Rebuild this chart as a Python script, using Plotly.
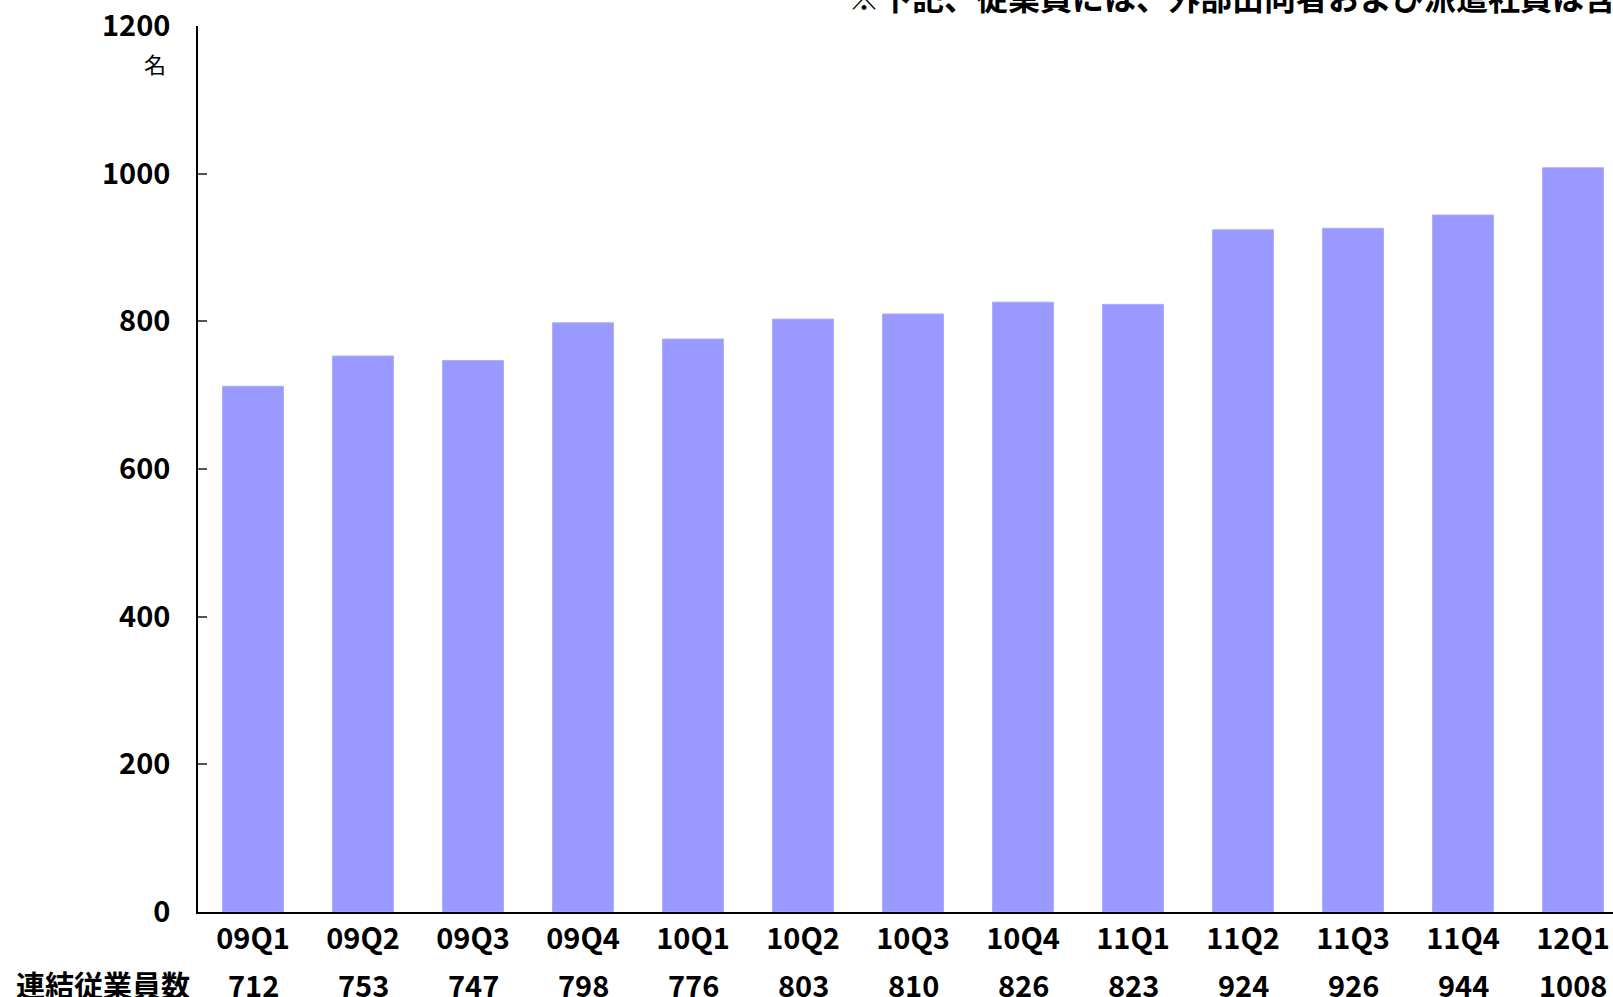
import plotly.graph_objects as go

quarters = ["09Q1", "09Q2", "09Q3", "09Q4", "10Q1", "10Q2", "10Q3", "10Q4",
            "11Q1", "11Q2", "11Q3", "11Q4", "12Q1"]
employees = [712, 753, 747, 798, 776, 803, 810, 826, 823, 924, 926, 944, 1008]
y_ticks = [0, 200, 400, 600, 800, 1000, 1200]
row_label = "連結従業員数"
unit_label = "名"
note_text = "※下記、従業員には、外部出向者および派遣社員は含まれておりません。"

FONT = "Noto Sans CJK JP"
W, H = 1613, 997
ML, MR, MT, MB = 198, 0, 26, 85
plot_w = W - ML - MR
plot_h = H - MT - MB
step = 110.0
x_max = plot_w / step - 0.5

fig = go.Figure()
fig.add_trace(go.Bar(
    x=list(range(len(quarters))),
    y=employees,
    width=0.555,
    marker=dict(color="#9999FF", line=dict(color="#ADADFF", width=1)),
    hoverinfo="skip",
))

annotations = []
row_y = -(984 - (MT + plot_h)) / plot_h
for i, v in enumerate(employees):
    annotations.append(dict(
        x=i, xref="x", y=row_y, yref="paper",
        text=f"<b>{v}</b>", showarrow=False, xanchor="center", yanchor="middle",
        font=dict(family=FONT, size=29, color="black"),
    ))
annotations.append(dict(
    x=(103 - ML) / plot_w, xref="paper", y=row_y, yref="paper",
    text=f"<b>{row_label}</b>", showarrow=False, xanchor="center", yanchor="middle",
    font=dict(family=FONT, size=29, color="black"),
))
annotations.append(dict(
    x=(155 - ML) / plot_w, xref="paper", y=1 + (MT - 63) / plot_h, yref="paper",
    text=unit_label, showarrow=False, xanchor="center", yanchor="middle",
    font=dict(family=FONT, size=22, color="black"),
))
annotations.append(dict(
    x=(846 - ML) / plot_w, xref="paper", y=1 + (MT + 4) / plot_h, yref="paper",
    text=f"<b>{note_text}</b>", showarrow=False, xanchor="left", yanchor="middle",
    font=dict(family=FONT, size=32, color="black"),
))

fig.update_layout(
    width=W, height=H,
    margin=dict(l=ML, r=MR, t=MT, b=MB, pad=0),
    paper_bgcolor="white", plot_bgcolor="white",
    showlegend=False,
    annotations=annotations,
    font=dict(family=FONT, color="black"),
)
fig.update_xaxes(
    range=[-0.5, x_max],
    tickmode="array",
    tickvals=list(range(len(quarters))),
    ticktext=[f"<b>{q}</b>" for q in quarters],
    tickfont=dict(family=FONT, size=29, color="black"),
    showline=True, linecolor="black", linewidth=1.5,
    ticks="", showgrid=False, zeroline=False,
    ticklabelstandoff=0,
)
fig.update_yaxes(
    range=[0, 1200],
    tickmode="array",
    tickvals=y_ticks,
    ticktext=[f"<b>{t}</b>" for t in y_ticks],
    tickfont=dict(family=FONT, size=29, color="black"),
    showline=True, linecolor="black", linewidth=1.5,
    ticks="inside", ticklen=9, tickcolor="#555555", tickwidth=1.5,
    showgrid=False, zeroline=False,
    ticklabelstandoff=20,
)

fig.write_html(
    "out.html",
    config={"displayModeBar": False},
    post_script="document.body.style.margin='0';document.body.style.overflow='hidden';",
)
